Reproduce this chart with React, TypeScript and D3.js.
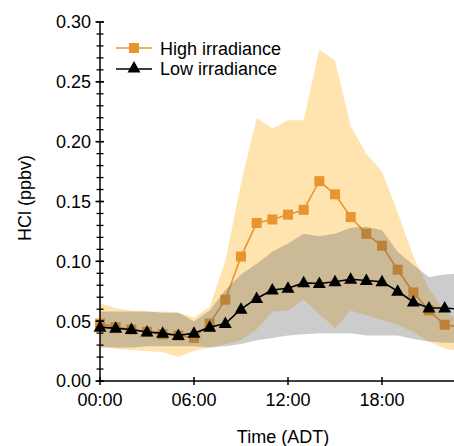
import React from "react";
import * as d3 from "d3";

const hours = [0,1,2,3,4,5,6,7,8,9,10,11,12,13,14,15,16,17,18,19,20,21,22,23];
const highMean = [0.048,0.045,0.043,0.041,0.039,0.038,0.036,0.048,0.068,0.104,0.132,0.135,0.139,0.143,0.167,0.156,0.137,0.123,0.113,0.093,0.074,0.059,0.047,0.045];
const highUpper = [0.065,0.061,0.059,0.058,0.058,0.057,0.053,0.062,0.100,0.165,0.220,0.211,0.218,0.218,0.277,0.268,0.213,0.190,0.175,0.141,0.104,0.077,0.058,0.050];
const highLower = [0.029,0.027,0.026,0.025,0.024,0.020,0.025,0.028,0.031,0.034,0.043,0.058,0.059,0.068,0.056,0.044,0.059,0.055,0.051,0.047,0.041,0.033,0.027,0.025];
const lowMean = [0.045,0.044,0.043,0.041,0.040,0.038,0.040,0.045,0.048,0.060,0.069,0.076,0.0775,0.082,0.0815,0.083,0.085,0.084,0.083,0.075,0.066,0.061,0.061,0.060];
const lowUpper = [0.058,0.058,0.058,0.058,0.057,0.057,0.050,0.059,0.076,0.089,0.098,0.108,0.115,0.123,0.121,0.123,0.128,0.129,0.126,0.108,0.097,0.087,0.089,0.090];
const lowLower = [0.028,0.028,0.028,0.029,0.029,0.029,0.029,0.028,0.029,0.031,0.034,0.036,0.038,0.039,0.040,0.040,0.040,0.038,0.038,0.038,0.035,0.033,0.032,0.032];

const yTicks = [0, 0.05, 0.1, 0.15, 0.2, 0.25, 0.3];
const xTicks = [0, 6, 12, 18, 24];
const xTickLabels = ["00:00", "06:00", "12:00", "18:00", ""];
const seriesNames = ["High irradiance", "Low irradiance"];

const W = 454, H = 446;
const FONT = "'Liberation Sans', Arial, sans-serif";
const ORANGE = "#E9952F";
const ORANGE_BAND = "#FFE4B0";

export default function App() {
  const x = d3.scaleLinear().domain([0, 24]).range([100, 476]);
  const y = d3.scaleLinear().domain([0, 0.3]).range([381, 22]);

  const bandHigh = d3.area<number>().x((h) => x(h)).y0((h, i) => y(highLower[i])).y1((h, i) => y(highUpper[i]));
  const bandLow = d3.area<number>().x((h) => x(h)).y0((h, i) => y(lowLower[i])).y1((h, i) => y(lowUpper[i]));
  const lineHigh = d3.line<number>().x((h) => x(h)).y((h, i) => y(highMean[i]));
  const lineLow = d3.line<number>().x((h) => x(h)).y((h, i) => y(lowMean[i]));

  const minorTicks = d3.range(0, 31).map((k) => k / 100);
  const tri = "M0,-7L6.5,4.5L-6.5,4.5Z";
  const sq = 10;

  return (
    <svg width={W} height={H} style={{ position: "absolute", left: 0, top: 0, display: "block" }} fontFamily={FONT}>
      <rect width={W} height={H} fill="#fff" />
      {/* high irradiance band and series */}
      <path d={bandHigh(hours) || ""} fill={ORANGE_BAND} />
      <path d={lineHigh(hours) || ""} fill="none" stroke={ORANGE} strokeWidth={1.6} />
      {hours.map((h, i) => (
        <rect key={"s" + i} x={x(h) - sq / 2} y={y(highMean[i]) - sq / 2} width={sq} height={sq} fill={ORANGE} />
      ))}
      {/* low irradiance band (semi-transparent, on top) */}
      <path d={bandLow(hours) || ""} fill="#555" fillOpacity={0.3} />
      <path d={lineLow(hours) || ""} fill="none" stroke="#000" strokeWidth={1.6} />
      {hours.map((h, i) => (
        <path key={"t" + i} d={tri} transform={`translate(${x(h)},${y(lowMean[i])})`} fill="#000" />
      ))}

      {/* y axis */}
      <line x1={x(0)} x2={x(0)} y1={y(0)} y2={y(0.3)} stroke="#000" strokeWidth={1.5} />
      {minorTicks.map((v, i) => (
        <line key={"m" + i} x1={x(0) - 3.5} x2={x(0) + 3.5} y1={y(v)} y2={y(v)} stroke="#000" strokeWidth={1.3} />
      ))}
      {yTicks.map((v, i) => (
        <g key={"y" + i}>
          <line x1={x(0) - 4.5} x2={x(0) + 4} y1={y(v)} y2={y(v)} stroke="#000" strokeWidth={1.5} />
          <text x={91} y={y(v)} dy="0.36em" textAnchor="end" fontSize={18} fill="#000">
            {v.toFixed(2)}
          </text>
        </g>
      ))}
      {/* x axis */}
      <line x1={x(0)} x2={x(24)} y1={y(0)} y2={y(0)} stroke="#000" strokeWidth={1.5} />
      {xTicks.map((h, i) => (
        <g key={"x" + i}>
          <line x1={x(h)} x2={x(h)} y1={y(0) - 4} y2={y(0) + 4} stroke="#000" strokeWidth={1.5} />
          {xTickLabels[i] ? (
            <text x={x(h)} y={406} textAnchor="middle" fontSize={18} fill="#000">
              {xTickLabels[i]}
            </text>
          ) : null}
        </g>
      ))}
      <text x={283} y={443} textAnchor="middle" fontSize={18} fill="#000">Time (ADT)</text>
      <text transform="translate(31,198) rotate(-90)" textAnchor="middle" fontSize={18} fill="#000">HCl (ppbv)</text>

      {/* legend */}
      <line x1={116} x2={152} y1={48} y2={48} stroke={ORANGE} strokeWidth={1.6} />
      <rect x={134 - sq / 2} y={48 - sq / 2} width={sq} height={sq} fill={ORANGE} />
      <text x={160} y={54.5} fontSize={18} fill="#000">{seriesNames[0]}</text>
      <line x1={116} x2={152} y1={69} y2={69} stroke="#000" strokeWidth={1.6} />
      <path d={tri} transform="translate(134,68)" fill="#000" />
      <text x={160} y={75} fontSize={18} fill="#000">{seriesNames[1]}</text>
    </svg>
  );
}
